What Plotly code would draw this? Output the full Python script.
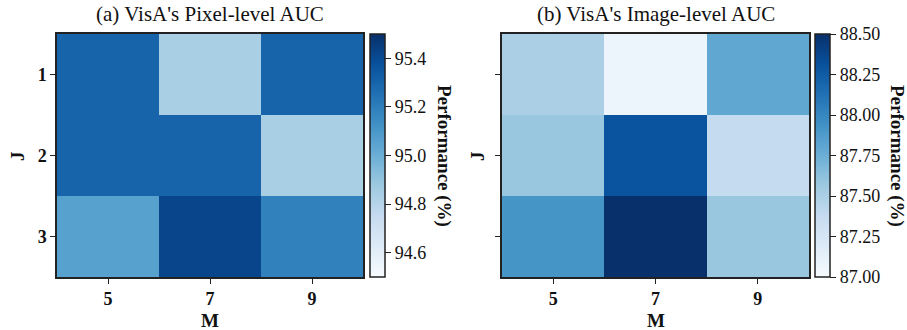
import plotly.graph_objects as go

M_labels = ["5", "7", "9"]
J_labels = ["1", "2", "3"]

pixel_auc = [
    [95.30, 94.84, 95.30],
    [95.30, 95.30, 94.84],
    [95.06, 95.42, 95.19],
]
image_auc = [
    [87.50, 87.08, 87.80],
    [87.58, 88.30, 87.38],
    [87.92, 88.50, 87.58],
]
titles = ["(a) VisA's Pixel-level AUC", "(b) VisA's Image-level AUC"]
pixel_ticks = [94.6, 94.8, 95.0, 95.2, 95.4]
image_ticks = [87.00, 87.25, 87.50, 87.75, 88.00, 88.25, 88.50]

blues = [
    [0.0, "rgb(247,251,255)"], [0.125, "rgb(222,235,247)"], [0.25, "rgb(198,219,239)"],
    [0.375, "rgb(158,202,225)"], [0.5, "rgb(107,174,214)"], [0.625, "rgb(66,146,198)"],
    [0.75, "rgb(33,113,181)"], [0.875, "rgb(8,81,156)"], [1.0, "rgb(8,48,107)"],
]

W, H = 907, 330
FONT = "Liberation Serif, Times New Roman, serif"

def fx(px):
    return px / W

def fy(py):
    return 1 - py / H

top, bot = 34, 277
ydom = [fy(bot), fy(top)]
xd1 = [fx(57), fx(363)]
xd2 = [fx(502), fx(809)]

fig = go.Figure()

def cbar(xpx, ticks, fmt):
    return dict(
        x=fx(xpx), xanchor="left", xpad=0, ypad=0,
        y=(ydom[0] + ydom[1]) / 2, yanchor="middle",
        len=(bot - top) / H, lenmode="fraction",
        thickness=15, outlinewidth=1.5, outlinecolor="#222",
        tickvals=ticks, ticktext=[fmt.format(t) for t in ticks],
        ticks="outside", ticklen=6, tickwidth=1, tickcolor="#222",
        tickfont=dict(family=FONT, size=18, color="#111"),
    )

fig.add_trace(go.Heatmap(
    z=pixel_auc, x=M_labels, y=J_labels, colorscale=blues,
    zmin=94.5, zmax=95.5, xaxis="x", yaxis="y",
    colorbar=cbar(370, pixel_ticks, "{:.1f}"),
))
fig.add_trace(go.Heatmap(
    z=image_auc, x=M_labels, y=J_labels, colorscale=blues,
    zmin=87.0, zmax=88.5, xaxis="x2", yaxis="y2",
    colorbar=cbar(815, image_ticks, "{:.2f}"),
))

axcommon = dict(
    type="category", showline=True, linecolor="#222", linewidth=1.5, mirror=True,
    ticks="outside", ticklen=5, tickwidth=1, tickcolor="#222",
    showgrid=False, zeroline=False,
    tickfont=dict(family=FONT, size=18, color="#111", weight="bold"),
)

fig.update_layout(
    width=W, height=H, margin=dict(l=0, r=0, t=0, b=0),
    paper_bgcolor="white", plot_bgcolor="white",
    xaxis=dict(domain=xd1, anchor="y", **axcommon),
    yaxis=dict(domain=ydom, anchor="x", autorange="reversed", **axcommon),
    xaxis2=dict(domain=xd2, anchor="y2", **axcommon),
    yaxis2=dict(domain=ydom, anchor="x2", autorange="reversed", showticklabels=False, **axcommon),
)

anns = []
for xd, t in zip([xd1, xd2], titles):
    anns.append(dict(text=t, x=(xd[0] + xd[1]) / 2, y=fy(14), xref="paper", yref="paper",
                     showarrow=False, xanchor="center", yanchor="middle",
                     font=dict(family=FONT, size=21, color="#111")))
    anns.append(dict(text="<b>M</b>", x=(xd[0] + xd[1]) / 2, y=fy(320), xref="paper", yref="paper",
                     showarrow=False, xanchor="center", yanchor="middle",
                     font=dict(family=FONT, size=19, color="#111")))
for xpx in [18, 478]:
    anns.append(dict(text="<b>J</b>", x=fx(xpx), y=fy(156), xref="paper", yref="paper",
                     showarrow=False, xanchor="center", yanchor="middle", textangle=-90,
                     font=dict(family=FONT, size=19, color="#111")))
for xpx in [444, 897]:
    anns.append(dict(text="<b>Performance (%)</b>", x=fx(xpx), y=fy(156), xref="paper", yref="paper",
                     showarrow=False, xanchor="center", yanchor="middle", textangle=90,
                     font=dict(family=FONT, size=19, color="#111")))
fig.update_layout(annotations=anns)

fig.write_html("out.html")
